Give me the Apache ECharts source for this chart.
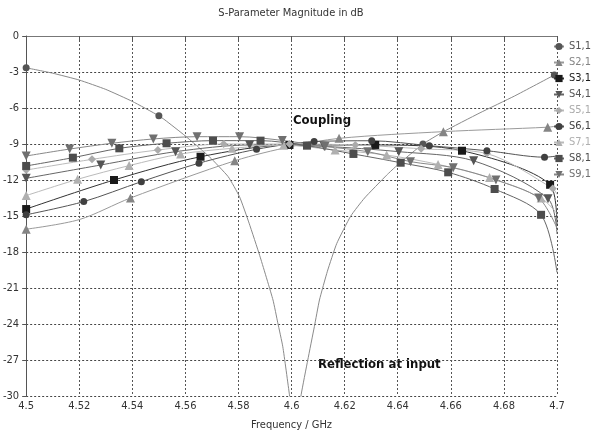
<!DOCTYPE html>
<html>
<head>
<meta charset="utf-8">
<title>S-Parameter Magnitude in dB</title>
<script src="https://cdn.jsdelivr.net/npm/echarts@6/dist/echarts.min.js"></script>
<style>
  html, body { margin: 0; padding: 0; background: #fff; }
  #chart { width: 600px; height: 436px; }
</style>
</head>
<body>
<div id="chart"></div>
<script>
// axis ranges: [min, max, step]
const FREQ_RANGE = [4.5, 4.7, 0.02]
const DB_RANGE = [-30, 0, 3]

const NAMES = ['S1,1', 'S2,1', 'S3,1', 'S4,1', 'S5,1', 'S6,1', 'S7,1', 'S8,1', 'S9,1']

// [GHz, dB] points that carry a marker
const S11_MARKS = [[4.5, -2.65], [4.55, -6.65], [4.6495, -9.0], [4.699, -3.25]]
const S21_MARKS = [[4.5, -16.1], [4.5393, -13.5], [4.5786, -10.4], [4.6179, -8.53], [4.6572, -7.97], [4.6965, -7.6]]
const S31_MARKS = [[4.5, -14.42], [4.5331, -12.0], [4.5657, -10.06], [4.5992, -9.08], [4.6315, -9.08], [4.6642, -9.56], [4.6974, -12.4]]
const S41_MARKS = [[4.5, -11.86], [4.5281, -10.75], [4.5563, -9.64], [4.5842, -9.08], [4.6123, -9.2], [4.6404, -9.64], [4.6686, -10.4], [4.6966, -13.56]]
const S51_MARKS = [[4.5, -11.17], [4.5248, -10.28], [4.5496, -9.5], [4.5744, -9.0], [4.5992, -9.0], [4.624, -9.08], [4.6488, -9.4], [4.6736, -9.8], [4.6984, -12.7]]
const S61_MARKS = [[4.5, -14.9], [4.5217, -13.8], [4.5434, -12.14], [4.5651, -10.6], [4.5868, -9.44], [4.6085, -8.8], [4.6302, -8.73], [4.6519, -9.14], [4.6736, -9.56], [4.6953, -10.1]]
const S71_MARKS = [[4.5, -13.3], [4.5194, -11.94], [4.5388, -10.8], [4.5582, -9.83], [4.5776, -9.36], [4.597, -9.1], [4.6164, -9.5], [4.6358, -9.92], [4.6552, -10.7], [4.6746, -11.8], [4.694, -13.5]]
const S81_MARKS = [[4.5, -10.83], [4.5176, -10.14], [4.5351, -9.36], [4.5529, -8.94], [4.5704, -8.72], [4.5883, -8.72], [4.6058, -9.14], [4.6233, -9.83], [4.6411, -10.56], [4.659, -11.36], [4.6765, -12.75], [4.694, -14.9]]
const S91_MARKS = [[4.5, -10.0], [4.5164, -9.42], [4.5323, -8.94], [4.5479, -8.58], [4.5644, -8.39], [4.5804, -8.39], [4.5965, -8.7], [4.6126, -9.2], [4.6287, -9.64], [4.6448, -10.47], [4.6609, -10.97], [4.677, -12.0], [4.6931, -13.5]]

// [GHz, dB] curve points without a marker
const S11_LINE = [[4.51, -3.1], [4.52, -3.67], [4.53, -4.45], [4.54, -5.45], [4.5523, -7.0], [4.5598, -8.3],
  [4.5692, -10.1], [4.5761, -11.72], [4.5804, -13.4], [4.584, -15.6], [4.588, -18.3], [4.593, -22],
  [4.5948, -23.9], [4.5967, -25.9], [4.5992, -29.9], [4.6014, -33.5], [4.6036, -29.9], [4.6061, -27],
  [4.6086, -24.2], [4.6105, -22], [4.6135, -19.6], [4.617, -17.3], [4.6223, -15.0], [4.6275, -13.5],
  [4.6358, -11.6], [4.6399, -10.75], [4.657, -8.0], [4.671, -6.4], [4.684, -5.0]]
const S21_LINE = [[4.52, -15.3], [4.6, -9.2], [4.7, -7.5]]
const S31_LINE = [[4.7, -15.8]]
const S41_LINE = [[4.7, -16.5]]
const S51_LINE = [[4.7, -13.2]]
const S61_LINE = [[4.7, -10.0]]
const S71_LINE = [[4.7, -14.8]]
const S81_LINE = [[4.7, -19.7]]
const S91_LINE = [[4.7, -16.0]]

const MARKS = [S11_MARKS, S21_MARKS, S31_MARKS, S41_MARKS, S51_MARKS, S61_MARKS, S71_MARKS, S81_MARKS, S91_MARKS]
const LINES = [S11_LINE, S21_LINE, S31_LINE, S41_LINE, S51_LINE, S61_LINE, S71_LINE, S81_LINE, S91_LINE]

const DOWN = 'path://M0,0L10,0L5,9Z'
const SYMBOLS = ['circle', 'triangle', 'rect', DOWN, 'diamond', 'circle', 'triangle', 'rect', DOWN]
const SYMBOL_SIZES = [7, 9, 8, 9, 8, 7, 9, 8, 9]
const MARK_COLORS = ['#555555', '#858585', '#1a1a1a', '#555555', '#ababab', '#404040', '#b0b0b0', '#4d4d4d', '#707070']
const LINE_COLORS = ['#8a8a8a', '#9a9a9a', '#333333', '#666666', '#bbbbbb', '#555555', '#bbbbbb', '#666666', '#888888']

const FONT = "'Liberation Sans Narrow', 'DejaVu Sans Condensed', sans-serif"

function buildData(marks, extra) {
  const pts = marks.map(p => ({ value: p }))
    .concat(extra.map(p => ({ value: p, symbol: 'none' })))
  pts.sort((a, b) => a.value[0] - b.value[0])
  return pts
}

const chart = echarts.init(document.getElementById('chart'))

chart.setOption({
  animation: false,
  backgroundColor: '#fff',
  title: {
    text: 'S-Parameter Magnitude in dB',
    left: 291,
    top: 8,
    padding: 0,
    textAlign: 'center',
    textStyle: { fontSize: 11, fontWeight: 'normal', color: '#333', fontFamily: FONT }
  },
  grid: { left: 24, right: 43, top: 36, bottom: 40 },
  legend: {
    orient: 'vertical',
    left: 553,
    top: 41,
    itemWidth: 10,
    itemHeight: 9,
    itemGap: 5,
    padding: 0,
    textStyle: { fontSize: 11, lineHeight: 10, fontFamily: FONT },
    data: NAMES.map((n, i) => ({ name: n, textStyle: { color: MARK_COLORS[i] } }))
  },
  xAxis: [{
    type: 'value',
    min: FREQ_RANGE[0],
    max: FREQ_RANGE[1],
    interval: FREQ_RANGE[2],
    name: 'Frequency / GHz',
    nameLocation: 'middle',
    nameGap: 24,
    nameTextStyle: { fontSize: 11, color: '#333', fontFamily: FONT },
    axisLine: { lineStyle: { color: '#555' } },
    axisTick: { length: 4, lineStyle: { color: '#555' } },
    axisLabel: {
      margin: 5,
      fontSize: 11,
      color: '#333',
      fontFamily: FONT,
      formatter: v => String(+v.toFixed(2))
    },
    splitLine: { lineStyle: { color: '#555', type: [2, 2] } }
  }, {
    type: 'value',
    position: 'top',
    min: FREQ_RANGE[0],
    max: FREQ_RANGE[1],
    axisLine: { show: true, lineStyle: { color: '#777' } },
    axisTick: { show: false },
    axisLabel: { show: false },
    splitLine: { show: false }
  }],
  yAxis: {
    type: 'value',
    min: DB_RANGE[0],
    max: DB_RANGE[1],
    interval: DB_RANGE[2],
    axisLine: { show: true, lineStyle: { color: '#555' } },
    axisTick: { show: true, length: 4, lineStyle: { color: '#555' } },
    axisLabel: { margin: 7, fontSize: 11, color: '#333', fontFamily: FONT },
    splitLine: { lineStyle: { color: '#444', type: [2, 2] } }
  },
  graphic: [
    {
      type: 'text', left: 293, top: 114,
      style: { text: 'Coupling', font: 'bold 13px ' + FONT, fill: '#111' }
    },
    {
      type: 'text', left: 318, top: 358,
      style: { text: 'Reflection at input', font: 'bold 13px ' + FONT, fill: '#111' }
    }
  ],
  series: NAMES.map((n, i) => ({
    name: n,
    type: 'line',
    data: buildData(MARKS[i], LINES[i]),
    smooth: i === 0 ? 0.15 : 0.3,
    symbol: SYMBOLS[i],
    symbolSize: SYMBOL_SIZES[i],
    showAllSymbol: true,
    clip: true,
    itemStyle: { color: MARK_COLORS[i] },
    lineStyle: { color: LINE_COLORS[i], width: 1 },
    emphasis: { disabled: true }
  }))
})
</script>
</body>
</html>
